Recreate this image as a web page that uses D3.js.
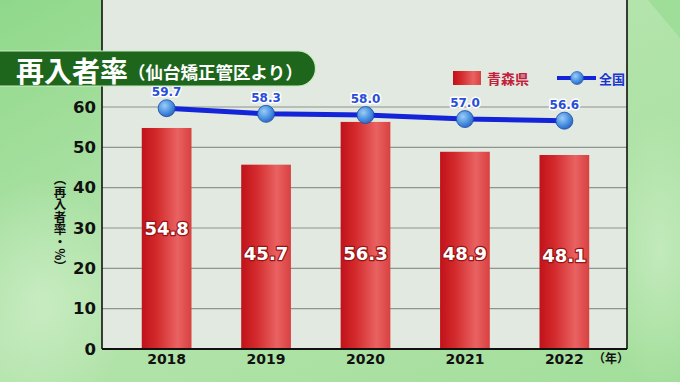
<!DOCTYPE html>
<html><head><meta charset="utf-8">
<script src="https://cdn.jsdelivr.net/npm/d3@7"></script>
<style>html,body{margin:0;padding:0;overflow:hidden;background:#a8dca0}</style>
</head><body>
<svg id="c" width="680" height="382"></svg>
<script>
const years = ["2018", "2019", "2020", "2021", "2022"];
const aomori = [54.8, 45.7, 56.3, 48.9, 48.1];
const national = [59.7, 58.3, 58.0, 57.0, 56.6];
const yTicks = [0, 10, 20, 30, 40, 50, 60];
const seriesNames = ["青森県", "全国"];
const titleMain = "再入者率";
const titleSub = "（仙台矯正管区より）";
const yAxisTitle = "（再入者率・%）";
const xUnit = "（年）";

const W = 680, H = 382;
const svg = d3.select("#c");
const defs = svg.append("defs");

// background gradient + texture
const bg = defs.append("linearGradient").attr("id","bg").attr("x1","0").attr("y1","0").attr("x2","1").attr("y2","1");
bg.append("stop").attr("offset","0%").attr("stop-color","#8fd88a");
bg.append("stop").attr("offset","45%").attr("stop-color","#b4e4ac");
bg.append("stop").attr("offset","100%").attr("stop-color","#a2de9a");
svg.append("rect").attr("width",W).attr("height",H).attr("fill","url(#bg)");
const tex = defs.append("radialGradient").attr("id","tex");
tex.append("stop").attr("offset","0%").attr("stop-color","#d8f2d2").attr("stop-opacity",0.55);
tex.append("stop").attr("offset","100%").attr("stop-color","#d8f2d2").attr("stop-opacity",0);
svg.append("ellipse").attr("cx",40).attr("cy",300).attr("rx",90).attr("ry",120).attr("fill","url(#tex)");
svg.append("ellipse").attr("cx",660).attr("cy",250).attr("rx",60).attr("ry",140).attr("fill","url(#tex)");
svg.append("path").attr("d","M648,0 L680,0 L680,38 Z").attr("fill","#86d882").attr("opacity",0.45);

// scales
const x = d3.scaleBand().domain(years).range([102, 629]).paddingInner(0.5).paddingOuter(0.4);
const y = d3.scaleLinear().domain([0, 60]).range([349, 107]);
const left = 102, right = 627, bottom = y(0);

// panel
svg.append("rect").attr("x",left).attr("y",-2).attr("width",right-left).attr("height",bottom+2)
  .attr("fill","#e1e9e1");

// gridlines
svg.append("g").selectAll("line").data(yTicks.filter(d=>d>0)).join("line")
  .attr("x1",left).attr("x2",right).attr("y1",d=>y(d)).attr("y2",d=>y(d))
  .attr("stroke","#8e948e").attr("stroke-width",1.2);

// bars
const bg2 = defs.append("linearGradient").attr("id","bar").attr("x1","0").attr("x2","1").attr("y1","0").attr("y2","0");
[["0%","#c0121a"],["30%","#d32a2c"],["72%","#e96262"],["100%","#d94040"]].forEach(s=>
  bg2.append("stop").attr("offset",s[0]).attr("stop-color",s[1]));
svg.append("g").selectAll("rect").data(years).join("rect")
  .attr("x",d=>x(d)).attr("width",x.bandwidth())
  .attr("y",(d,i)=>y(aomori[i])).attr("height",(d,i)=>bottom-y(aomori[i]))
  .attr("fill","url(#bar)");

// bar labels
const labelAnchor = [30, 23.8, 23.8, 23.6, 23.1];
svg.append("g").selectAll("text").data(years).join("text")
  .attr("x",d=>x(d)+x.bandwidth()/2).attr("y",(d,i)=>y(labelAnchor[i]))
  .attr("text-anchor","middle").attr("dominant-baseline","central")
  .attr("font-family","'DejaVu Sans', sans-serif").attr("font-weight","bold").attr("font-size",18)
  .attr("fill","#fff").attr("stroke","#9a1414").attr("stroke-width",2.5).attr("paint-order","stroke")
  .attr("stroke-linejoin","round")
  .text((d,i)=>aomori[i].toFixed(1));

// axes lines
svg.append("line").attr("x1",left).attr("x2",left).attr("y1",-2).attr("y2",bottom).attr("stroke","#111").attr("stroke-width",1.6);
svg.append("line").attr("x1",right).attr("x2",right).attr("y1",-2).attr("y2",bottom).attr("stroke","#111").attr("stroke-width",1.6);
svg.append("line").attr("x1",left).attr("x2",right).attr("y1",bottom).attr("y2",bottom).attr("stroke","#111").attr("stroke-width",1.8);

// y tick labels
svg.append("g").selectAll("text").data(yTicks).join("text")
  .attr("x",96).attr("y",d=>y(d)).attr("text-anchor","end").attr("dominant-baseline","central")
  .attr("font-family","'DejaVu Sans', sans-serif").attr("font-weight","bold").attr("font-size",16.5)
  .attr("fill","#111").text(d=>d);

// x tick labels
svg.append("g").selectAll("text").data(years).join("text")
  .attr("x",d=>x(d)+x.bandwidth()/2).attr("y",359).attr("text-anchor","middle").attr("dominant-baseline","central")
  .attr("font-family","'DejaVu Sans', sans-serif").attr("font-weight","bold").attr("font-size",14)
  .attr("fill","#111").text(d=>d);
svg.append("text").attr("x",611).attr("y",357).attr("text-anchor","middle").attr("dominant-baseline","central")
  .attr("font-family","'Noto Sans CJK JP', sans-serif").attr("font-weight","bold").attr("font-size",12)
  .attr("fill","#111").text(xUnit);

// y axis title (vertical)
svg.append("text").attr("x",60).attr("y",223).attr("text-anchor","middle").attr("dominant-baseline","central")
  .attr("writing-mode","vertical-rl").attr("glyph-orientation-vertical","0")
  .attr("font-family","'Noto Sans CJK JP', sans-serif").attr("font-weight","bold").attr("font-size",12.5)
  .attr("fill","#111").text(yAxisTitle);

// national line
const cx = d => x(d) + x.bandwidth()/2;
const line = d3.line().x((d,i)=>cx(years[i])).y(d=>y(d));
svg.append("path").datum(national).attr("d",line).attr("fill","none")
  .attr("stroke","#1424d8").attr("stroke-width",5);
const pg = defs.append("radialGradient").attr("id","pt").attr("cx","0.38").attr("cy","0.35").attr("r","0.7");
pg.append("stop").attr("offset","0%").attr("stop-color","#9ccdf6");
pg.append("stop").attr("offset","60%").attr("stop-color","#4890e0");
pg.append("stop").attr("offset","100%").attr("stop-color","#2a62c0");
svg.append("g").selectAll("circle").data(national).join("circle")
  .attr("cx",(d,i)=>cx(years[i])).attr("cy",d=>y(d)).attr("r",8.5)
  .attr("fill","url(#pt)").attr("stroke","#1c4aa8").attr("stroke-width",0.8);
svg.append("g").selectAll("text").data(national).join("text")
  .attr("x",(d,i)=>cx(years[i])).attr("y",d=>y(d)-16).attr("text-anchor","middle").attr("dominant-baseline","central")
  .attr("font-family","'DejaVu Sans', sans-serif").attr("font-weight","bold").attr("font-size",12)
  .attr("fill","#2a4ed8").attr("stroke","#fff").attr("stroke-width",3).attr("paint-order","stroke")
  .attr("stroke-linejoin","round")
  .text(d=>d.toFixed(1));

// title banner
svg.append("path").attr("d","M-5,51 H298 A17.5,17.5 0 0 1 298,86 H-5 Z")
  .attr("fill","#1e661c").attr("stroke","#c8ecc0").attr("stroke-width",1.2);
svg.append("text").attr("x",16).attr("y",70).attr("dominant-baseline","central")
  .attr("font-family","'Noto Sans CJK JP', sans-serif").attr("font-weight","bold").attr("font-size",28)
  .attr("fill","#fff").text(titleMain);
svg.append("text").attr("x",128).attr("y",71).attr("dominant-baseline","central")
  .attr("font-family","'Noto Sans CJK JP', sans-serif").attr("font-weight","bold").attr("font-size",17.5)
  .attr("fill","#fff").text(titleSub);

// legend
const lg = svg.append("g");
lg.append("rect").attr("x",453).attr("y",71).attr("width",28).attr("height",14).attr("fill","url(#bar)");
lg.append("text").attr("x",487).attr("y",78).attr("dominant-baseline","central")
  .attr("font-family","'Noto Sans CJK JP', sans-serif").attr("font-weight","bold").attr("font-size",14)
  .attr("fill","#c4203a").text(seriesNames[0]);
lg.append("line").attr("x1",557).attr("x2",596).attr("y1",78).attr("y2",78).attr("stroke","#1424d8").attr("stroke-width",4);
lg.append("circle").attr("cx",577).attr("cy",78).attr("r",6.5).attr("fill","url(#pt)").attr("stroke","#1c4aa8").attr("stroke-width",0.6);
lg.append("text").attr("x",599).attr("y",78).attr("dominant-baseline","central")
  .attr("font-family","'Noto Sans CJK JP', sans-serif").attr("font-weight","bold").attr("font-size",13)
  .attr("fill","#1a34d0").text(seriesNames[1]);
</script>
</body></html>
